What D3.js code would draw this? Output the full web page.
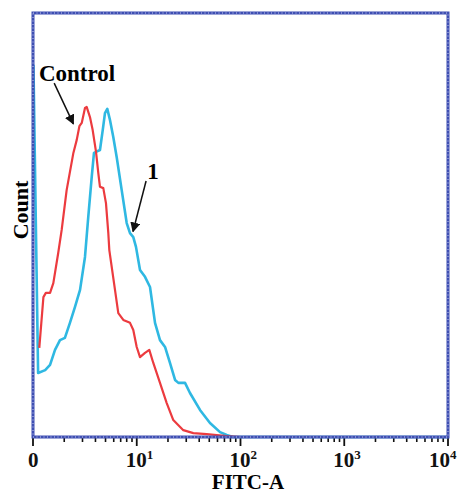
<!DOCTYPE html>
<html>
<head>
<meta charset="utf-8">
<script src="https://cdn.jsdelivr.net/npm/d3@7"></script>
<style>
  body { margin: 0; background: #fff; }
  svg text { font-family: "Liberation Serif", "Times New Roman", serif; font-weight: bold; }
</style>
</head>
<body>
<svg width="459" height="494"></svg>
<script>
// FITC-A intensity (log axis) and relative counts
var control_x = [1.15, 1.26, 1.33, 1.46, 1.57, 1.75, 1.89, 2.11, 2.45, 2.64, 2.80, 2.95, 3.17, 3.29, 3.54, 3.76, 4.05, 4.26, 4.42, 4.76, 5.05, 5.32, 5.44, 6.17, 6.64, 7.42, 8.61, 9.26, 9.99, 10.75, 12.01, 13.21, 14.44, 16.75, 19.45, 22.5, 28.1, 35.1, 47.2, 73.6, 98.9, 10000];
var control_y = [27.3, 42.9, 44.2, 44.2, 47.2, 56.4, 63.5, 75.7, 87.1, 91.1, 95.3, 96.3, 100.9, 101.2, 98.1, 94.1, 87.4, 80.9, 76.7, 76.3, 71.7, 62.5, 57.3, 45.1, 38.0, 35.9, 35.0, 32.8, 27.6, 24.5, 25.8, 26.7, 22.7, 16.6, 10.4, 5.2, 2.1, 1.2, 0.9, 0.3, 0, 0];

var sample1_x = [1.01, 1.12, 1.31, 1.46, 1.63, 1.82, 2.03, 2.27, 2.54, 2.84, 3.17, 3.41, 3.68, 3.87, 4.05, 4.42, 4.70, 4.94, 5.20, 5.52, 5.94, 6.41, 7.16, 8.00, 8.61, 9.26, 9.83, 10.75, 12.01, 13.42, 15.0, 16.75, 18.73, 20.9, 23.4, 25.2, 29.2, 32.6, 40.7, 50.8, 63.5, 73.6, 84.7, 10000];
var sample1_y = [114.1, 19.6, 20.5, 22.1, 26.7, 29.7, 30.4, 35.0, 39.9, 45.1, 55.2, 67.5, 79.7, 87.1, 87.4, 88.0, 94.1, 99.3, 100.6, 97.2, 92.0, 85.8, 75.7, 65.6, 62.5, 61.3, 58.3, 51.2, 49.1, 46.0, 35.0, 29.7, 27.6, 22.7, 17.5, 16.6, 16.6, 13.5, 8.3, 4.3, 1.5, 0.6, 0, 0];

var major_ticks = [1, 10, 100, 1000, 10000];
var major_labels = [["0", ""], ["10", "1"], ["10", "2"], ["10", "3"], ["10", "4"]];

var svg = d3.select("svg");
var p_left = 33, p_right = 448, p_top = 13, p_bottom = 437;

var x = d3.scaleLog().domain([1, 10000]).range([p_left, p_right]);
var y = d3.scaleLinear().domain([0, 130]).range([p_bottom, p_top]);

var line = d3.line()
  .x((d) => x(d[0]))
  .y((d) => y(d[1]));

// minor ticks 2..9 in each decade
var minor_ticks = [];
for (var e = 0; e < 4; e++) {
  for (var m = 2; m <= 9; m++) minor_ticks.push(m * Math.pow(10, e));
}

var axis = svg.append("g");
axis.selectAll("line.minor")
  .data(minor_ticks)
  .enter()
  .append("line")
  .attr("class", "minor")
  .attr("x1", (d) => x(d)).attr("x2", (d) => x(d))
  .attr("y1", p_bottom).attr("y2", p_bottom + 5)
  .style("stroke", "#111").style("stroke-width", 1.6);
axis.selectAll("line.major")
  .data(major_ticks)
  .enter()
  .append("line")
  .attr("class", "major")
  .attr("x1", (d) => x(d)).attr("x2", (d) => x(d))
  .attr("y1", p_bottom).attr("y2", p_bottom + 9)
  .style("stroke", "#111").style("stroke-width", 1.8);

// "10" centred under the tick, exponent hanging to the right
var lbl = axis.selectAll("text.tick")
  .data(major_ticks)
  .enter()
  .append("text")
  .attr("class", "tick")
  .attr("x", (d, i) => x(d) - (i === 0 ? 5 : i === 4 ? 19 : 11))
  .attr("y", 467)
  .attr("text-anchor", "start")
  .style("font-size", "21px")
  .style("fill", "#111");
lbl.append("tspan").text((d, i) => major_labels[i][0]);
lbl.append("tspan")
  .attr("dy", -8)
  .style("font-size", "13px")
  .text((d, i) => major_labels[i][1]);

// curves
var g = svg.append("g");
g.append("path")
  .datum(sample1_x.map((v, i) => [v, sample1_y[i]]))
  .attr("d", line)
  .style("fill", "none")
  .style("stroke", "#2fb8e2")
  .style("stroke-width", 2.6)
  .style("stroke-linejoin", "round");
g.append("path")
  .datum(control_x.map((v, i) => [v, control_y[i]]))
  .attr("d", line)
  .style("fill", "none")
  .style("stroke", "#ec3b3f")
  .style("stroke-width", 2.2)
  .style("stroke-linejoin", "round");

// frame
svg.append("rect")
  .attr("x", p_left).attr("y", p_top)
  .attr("width", p_right - p_left).attr("height", p_bottom - p_top)
  .style("fill", "none")
  .style("stroke", "#3f4fb3")
  .style("stroke-width", 3);
svg.append("rect")
  .attr("x", p_left).attr("y", p_top)
  .attr("width", p_right - p_left).attr("height", p_bottom - p_top)
  .style("fill", "none")
  .style("stroke", "#c9cdee")
  .style("stroke-width", 1)
  .style("stroke-dasharray", "1,2.5");

// annotations
svg.append("defs").append("marker")
  .attr("id", "arrow")
  .attr("viewBox", "0 0 10 10")
  .attr("refX", 9).attr("refY", 5)
  .attr("markerWidth", 10).attr("markerHeight", 10)
  .attr("markerUnits", "userSpaceOnUse")
  .attr("orient", "auto")
  .append("path")
  .attr("d", "M0,0 L10,5 L0,10 z")
  .style("fill", "#111");

svg.append("text").attr("x", 77).attr("y", 81)
  .attr("text-anchor", "middle").style("font-size", "23px").text("Control");
svg.append("line")
  .attr("x1", x(1.6)).attr("y1", y(108.5))
  .attr("x2", x(2.45)).attr("y2", y(96))
  .style("stroke", "#111").style("stroke-width", 1.5)
  .attr("marker-end", "url(#arrow)");

svg.append("text").attr("x", 153).attr("y", 179)
  .attr("text-anchor", "middle").style("font-size", "23px").text("1");
svg.append("line")
  .attr("x1", x(12.3)).attr("y1", y(78.5))
  .attr("x2", x(9.2)).attr("y2", y(63))
  .style("stroke", "#111").style("stroke-width", 1.5)
  .attr("marker-end", "url(#arrow)");

svg.append("text")
  .attr("transform", "translate(28,210) rotate(-90)")
  .attr("text-anchor", "middle")
  .style("font-size", "22px")
  .text("Count");

svg.append("text")
  .attr("x", 248).attr("y", 489)
  .attr("text-anchor", "middle")
  .style("font-size", "21px")
  .text("FITC-A");
</script>
</body>
</html>
